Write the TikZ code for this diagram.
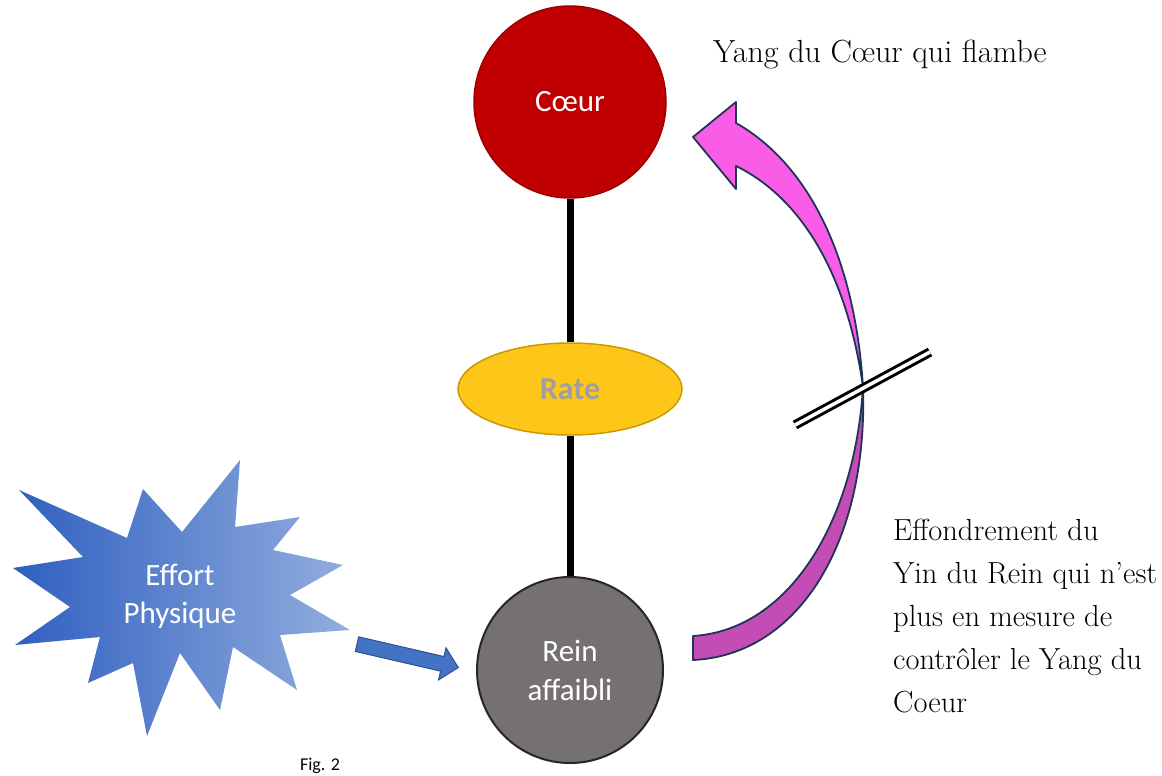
\documentclass[tikz,border=0pt]{standalone}
\usepackage{fontspec}
\usepackage{tikz}
\usetikzlibrary{shapes.geometric,shapes.arrows}
\newfontfamily\calibri{Carlito}
\definecolor{coeurred}{HTML}{C00000}
\definecolor{coeurrim}{HTML}{9E0000}
\definecolor{rategold}{HTML}{FFC61A}
\definecolor{raterim}{HTML}{C99A00}
\definecolor{reingray}{HTML}{767171}
\definecolor{reinrim}{HTML}{262626}
\definecolor{pinklight}{HTML}{F95DE8}
\definecolor{pinkdark}{HTML}{C44DB5}
\definecolor{navy}{HTML}{1F3556}
\definecolor{pushblue}{HTML}{4472C4}
\definecolor{pushrim}{HTML}{2F528F}
\definecolor{stardark}{HTML}{2F5FC0}
\definecolor{starlight}{HTML}{93AEDE}

\begin{document}
\begin{tikzpicture}[x=1pt, y=-1pt,
	organ/.style={circle, inner sep=0pt, minimum size=#1, text=white, align=center,
		font=\calibri\fontsize{31}{39}\selectfont},
	stem/.style={line width=7pt, black},
	hand/.style={inner sep=0pt, font=\fontsize{30.5}{43}\selectfont},
	cutmark/.style={double, double distance=3.5pt, line width=3pt}]
	\useasboundingbox (0,0) rectangle (1162,776);
	% organes
	\node[organ=192pt, fill=coeurred, draw=coeurrim, line width=1.5pt] (coeur) at (570,102) {C\oe ur};
	\node[ellipse, inner sep=0pt, minimum width=224pt, minimum height=92pt, fill=rategold,
		draw=raterim, line width=1.5pt, text=gray!75,
		font=\calibri\bfseries\fontsize{32}{36}\selectfont] (rate) at (570,389) {Rate};
	\node[organ=186pt, fill=reingray, draw=reinrim, line width=2pt] (rein) at (570,670) {Rein\\affaibli};
	\foreach \from/\to in {coeur/rate, rate/rein}
	\draw[stem] (\from) -- (\to);
	% effort physique
	\path[left color=stardark, right color=starlight] (19,490) -- (127,538) -- (143,489) -- (182,532)
		-- (240,460) -- (235,527) -- (300,517) -- (273,550) -- (343,565) -- (290,595)
		-- (350,630) -- (280,635) -- (297,690) -- (233,647) -- (220,710) -- (180,653)
		-- (147,736) -- (133,663) -- (88,683) -- (100,637) -- (15,645) -- (70,607)
		-- (13,568) -- (83,557) -- cycle;
	\node[text=white, align=center, font=\calibri\fontsize{31}{38}\selectfont] (effort) at (180,596) {Effort\\Physique};
	\node[single arrow, rotate=-13, minimum height=104pt, inner sep=7pt, single arrow head extend=9pt,
		single arrow tip angle=90, fill=pushblue, draw=pushrim, line width=1pt] (push) at (404,655) {};
	% fleche courbe
	\draw[fill=pinkdark, draw=navy, line width=1.8pt, line join=round]
		(863,387) .. controls (855,520) and (790,630) .. (693,636) -- (693,660)
		.. controls (800,655) and (868,540) .. (863,387) -- cycle;
	\draw[fill=pinklight, draw=navy, line width=1.8pt, line join=round]
		(863,387) .. controls (855,260) and (810,165) .. (736,123) -- (736,102) -- (693,137)
		-- (736,189) -- (736,166) .. controls (805,200) and (848,280) .. (863,387) -- cycle;
	\draw[cutmark] (795,425) -- (930,352);
	% textes
	\node[hand, anchor=base west, font=\fontsize{32}{43}\selectfont] (yang) at (713,63) {Yang du C\oe ur qui flambe};
	\node[hand, anchor=north west, align=left] (yin) at (893,518.5)
		{Effondrement du\\Yin du Rein qui n'est\\plus en mesure de\\contrôler le Yang du\\Coeur};
	\node[font=\calibri\fontsize{18}{20}\selectfont] (fig) at (320,766) {Fig. 2};
\end{tikzpicture}
\end{document}
